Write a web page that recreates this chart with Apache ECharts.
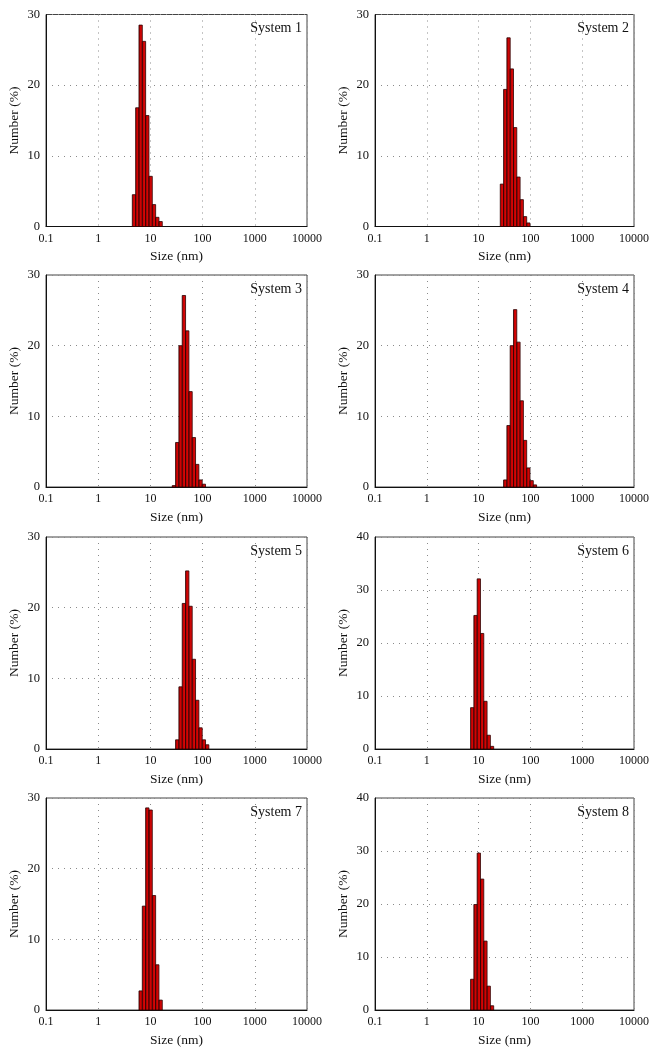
<!DOCTYPE html>
<html>
<head>
<meta charset="utf-8">
<script src="https://cdn.jsdelivr.net/npm/echarts@6/dist/echarts.min.js"></script>
<style>html,body{margin:0;padding:0;background:#fff}#c{width:660px;height:1056px}</style>
</head>
<body>
<div id="c"></div>
<script>
// ---- data ----
const systemNames = ['System 1','System 2','System 3','System 4','System 5','System 6','System 7','System 8'];
const sizes1 = [4.849, 5.615, 6.503, 7.531, 8.721, 10.1, 11.7, 13.54, 15.69];
const number1 = [4.5, 16.8, 28.5, 26.2, 15.7, 7.1, 3.1, 1.3, 0.7];
const sizes2 = [28.21, 32.67, 37.84, 43.82, 50.75, 58.77, 68.06, 78.82, 91.28];
const number2 = [6.0, 19.4, 26.7, 22.3, 14.0, 7.0, 3.8, 1.4, 0.5];
const sizes3 = [28.21, 32.67, 37.84, 43.82, 50.75, 58.77, 68.06, 78.82, 91.28, 105.7];
const number3 = [0.2, 6.3, 20.0, 27.1, 22.1, 13.5, 7.0, 3.2, 1.0, 0.4];
const sizes4 = [32.67, 37.84, 43.82, 50.75, 58.77, 68.06, 78.82, 91.28, 105.7, 122.4];
const number4 = [1.0, 8.7, 20.0, 25.1, 20.5, 12.2, 6.6, 2.7, 0.9, 0.3];
const sizes5 = [32.67, 37.84, 43.82, 50.75, 58.77, 68.06, 78.82, 91.28, 105.7, 122.4];
const number5 = [1.3, 8.8, 20.6, 25.2, 20.2, 12.7, 6.9, 3.0, 1.3, 0.6];
const sizes6 = [7.531, 8.721, 10.1, 11.7, 13.54, 15.69, 18.17];
const number6 = [7.8, 25.2, 32.1, 21.8, 9.0, 2.6, 0.5];
const sizes7 = [6.503, 7.531, 8.721, 10.1, 11.7, 13.54, 15.69];
const number7 = [2.7, 14.7, 28.6, 28.3, 16.2, 6.4, 1.4];
const sizes8 = [7.531, 8.721, 10.1, 11.7, 13.54, 15.69, 18.17];
const number8 = [5.8, 19.9, 29.6, 24.7, 13.0, 4.5, 0.8];
const yMaxes = [30, 30, 30, 30, 30, 40, 30, 40];
const xMin = 0.1, xMax = 10000;
const xTitle = 'Size (nm)';
const yTitle = 'Number (%)';

const allSizes = [sizes1, sizes2, sizes3, sizes4, sizes5, sizes6, sizes7, sizes8];
const allNumbers = [number1, number2, number3, number4, number5, number6, number7, number8];

// ---- layout ----
const colLeft = [46, 375];
const colWidth = [261, 259];
const rowTop = [14.5, 275, 537, 798];
const plotH = 212;
const halfBin = Math.sqrt(1.1585); // size-class ratio of the instrument bins

const FONT = '"Liberation Serif", "DejaVu Serif", serif';
const chart = echarts.init(document.getElementById('c'), null, {renderer: 'canvas'});

const grids = [], xAxes = [], yAxes = [], series = [], titles = [];
for (let i = 0; i < 8; i++) {
  const col = i % 2, row = Math.floor(i / 2);
  grids.push({
    left: colLeft[col], top: rowTop[row], width: colWidth[col], height: plotH,
    show: true, borderColor: '#444', borderWidth: 1, backgroundColor: 'transparent'
  });
  xAxes.push({
    type: 'log', logBase: 10, gridIndex: i, min: xMin, max: xMax,
    name: xTitle, nameLocation: 'middle', nameGap: 23,
    nameTextStyle: {fontFamily: FONT, fontSize: 13.5, color: '#111'},
    axisLine: {show: true, lineStyle: {color: '#111', width: 1}},
    axisTick: {show: false},
    minorTick: {show: false},
    axisLabel: {fontFamily: FONT, fontSize: 12, color: '#111', margin: 6,
      formatter: v => String(+v.toPrecision(6))},
    splitLine: {show: true, lineStyle: {color: '#8a8a8a', width: 1, type: [1, 5]}}
  });
  yAxes.push({
    type: 'value', gridIndex: i, min: 0, max: yMaxes[i], interval: 10,
    name: yTitle, nameLocation: 'middle', nameGap: 25, nameRotate: 90,
    nameTextStyle: {fontFamily: FONT, fontSize: 13.5, color: '#111'},
    axisLine: {show: true, lineStyle: {color: '#111', width: 1}},
    axisTick: {show: false},
    axisLabel: {fontFamily: FONT, fontSize: 12.5, color: '#111', margin: 6},
    splitLine: {show: true, lineStyle: {color: '#8a8a8a', width: 1, type: [1, 5]}}
  });
  titles.push({
    text: systemNames[i],
    right: 660 - (colLeft[col] + colWidth[col]),
    top: rowTop[row] + 2,
    textStyle: {fontFamily: FONT, fontSize: 14, fontWeight: 'normal', color: '#111'}
  });
  const data = allSizes[i].map((s, k) => [s, allNumbers[i][k]]);
  series.push({
    type: 'custom', xAxisIndex: i, yAxisIndex: i, data: data,
    encode: {x: 0, y: 1},
    renderItem: function (params, api) {
      const s = api.value(0), n = api.value(1);
      const p0 = api.coord([s / halfBin, n]);
      const p1 = api.coord([s * halfBin, 0]);
      return {
        type: 'rect',
        shape: {x: p0[0], y: p0[1], width: p1[0] - p0[0], height: p1[1] - p0[1]},
        style: {
          fill: new echarts.graphic.LinearGradient(0, 0, 1, 0, [
            {offset: 0, color: '#7a0000'},
            {offset: 0.35, color: '#c80000'},
            {offset: 1, color: '#e41010'}
          ]),
          stroke: '#2a0000', lineWidth: 0.8
        }
      };
    }
  });
}

chart.setOption({
  animation: false,
  backgroundColor: '#fff',
  title: titles,
  grid: grids,
  xAxis: xAxes,
  yAxis: yAxes,
  series: series
});
</script>
</body>
</html>
